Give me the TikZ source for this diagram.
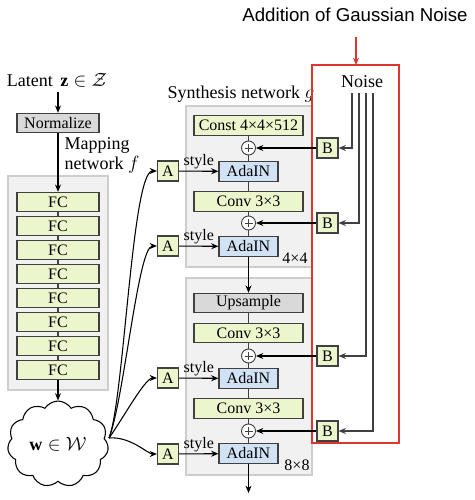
\documentclass[tikz,border=0pt]{standalone}
\usepackage{amsmath}
\usepackage{amssymb}
\usepackage{fontspec}
\setmainfont{Liberation Serif}
\newfontfamily\titlefont{Liberation Sans}
\usetikzlibrary{arrows.meta}
\usetikzlibrary{shapes.symbols}
\definecolor{fcfill}{RGB}{236,246,204}
\definecolor{adafill}{RGB}{208,226,244}
\definecolor{grayfill}{RGB}{217,217,217}
\definecolor{panelfill}{RGB}{241,241,241}
\definecolor{paneldraw}{RGB}{205,205,205}
\definecolor{boxline}{RGB}{64,64,64}
\definecolor{noisered}{RGB}{224,52,44}
\newcommand{\lblsize}{\fontsize{13.5}{15}\selectfont}

\begin{document}
\begin{tikzpicture}[x=0.75pt, y=-0.75pt, >={Stealth[length=5.5pt, width=4.5pt]},
    font=\fontsize{12}{14}\selectfont,
    box/.style = {draw=boxline, line width=0.8pt, inner sep=0pt, minimum height=14.5pt},
    fc/.style = {box, fill=fcfill, minimum width=61.5pt},
    wide/.style = {box, fill=fcfill, minimum width=81.75pt},
    grey/.style = {box, fill=grayfill},
    ada/.style = {box, fill=adafill, minimum width=44.25pt},
    small/.style = {box, fill=fcfill, minimum width=15.75pt, minimum height=15pt},
    plus/.style = {circle, draw=boxline, fill=white, line width=0.7pt, minimum size=10.5pt, inner sep=0pt,
      path picture={\draw[line width=0.5pt] ([xshift=-3pt]path picture bounding box.center) -- ([xshift=3pt]path picture bounding box.center)
        ([yshift=-3pt]path picture bounding box.center) -- ([yshift=3pt]path picture bounding box.center);}},
    panel/.style = {fill=panelfill, draw=paneldraw, line width=0.8pt},
    link/.style = {draw=boxline, line width=0.8pt},
    arr/.style = {->, draw=black, line width=0.8pt},
    noise/.style = {->, draw=boxline, line width=1pt}]
    \useasboundingbox (0,0) rectangle (475,500);

    % Panels
    \draw[panel] (8,176) rectangle (108,390);
    \draw[panel] (186,106) rectangle (312,267);
    \draw[panel] (186,278) rectangle (312,475);

    % Nodes
    \node[font=\titlefont\fontsize{14}{16}\selectfont] (title) at (355,15) {Addition of Gaussian Noise};
    \node[font=\lblsize] (latent) at (57,80) {Latent \,$\mathbf{z}\in\mathcal{Z}$};
    \node[grey, minimum width=61.5pt] (norm) at (58,123) {Normalize};
    \node[font=\lblsize, anchor=west, align=left] (maplbl) at (60,155) {Mapping\\network $f$};
    \foreach \i in {1,...,8}
        \node[fc] (fc\i) at (58,{202+24*(\i-1)}) {FC};
    \node[cloud, draw, line width=0.8pt, cloud puffs=11, cloud puff arc=115, aspect=1.25,
          minimum width=75pt, minimum height=60pt, font=\lblsize] (w) at (58,444) {$\mathbf{w}\in\mathcal{W}$};
    \coordinate (wout) at (109,438);

    \node[small] (a1) at (168,171) {A};
    \node[small] (a2) at (168,246) {A};
    \node[small] (a3) at (168,378) {A};
    \node[small] (a4) at (168,454) {A};

    \node[font=\lblsize] (synlbl) at (241,94) {Synthesis network $g$};
    \node[wide] (const) at (248.5,125.5) {Const 4×4×512};
    \node[plus] (p1) at (248.5,148) {};
    \node[ada] (ada1) at (248.5,171.5) {AdaIN};
    \node[wide] (conv1) at (248.5,201.5) {Conv 3×3};
    \node[plus] (p2) at (248.5,223) {};
    \node[ada] (ada2) at (248.5,246.5) {AdaIN};
    \node (res1) at (295,258) {4×4};

    \node[grey, minimum width=81.75pt] (up) at (248.5,303) {Upsample};
    \node[wide] (conv2) at (248.5,333) {Conv 3×3};
    \node[plus] (p3) at (248.5,356) {};
    \node[ada] (ada3) at (248.5,378.5) {AdaIN};
    \node[wide] (conv3) at (248.5,408.5) {Conv 3×3};
    \node[plus] (p4) at (248.5,431) {};
    \node[ada] (ada4) at (248.5,453.5) {AdaIN};
    \node (res2) at (297,465) {8×8};
    \coordinate (out) at (248.5,493);

    \node[small] (b1) at (327.5,148) {B};
    \node[small] (b2) at (327.5,223) {B};
    \node[small] (b3) at (327.5,356) {B};
    \node[small] (b4) at (327.5,431) {B};

    \draw[noisered, line width=1.2pt] (312,65) rectangle (399,443);
    \node[font=\lblsize] (noiselbl) at (362,82) {Noise};
    \coordinate (n1) at (352,93);
    \coordinate (n2) at (359,93);
    \coordinate (n3) at (366,93);
    \coordinate (n4) at (373,93);
    \coordinate (redtop) at (356,65);

    % Edges
    \draw[arr] (latent.south -| norm) -- (norm);
    \draw[arr] (norm) -- (fc1);
    \foreach \i [evaluate=\i as \j using int(\i+1)] in {1,...,7}
        \draw[link] (fc\i) -- (fc\j);
    \draw[arr] (fc8) -- (w);

    \draw[arr] (wout) .. controls +(15,-38) and +(-36,0) .. (a1);
    \draw[arr] (wout) .. controls +(15,-38) and +(-30,0) .. (a2);
    \draw[arr] (wout) .. controls +(13,-18) and +(-23,0) .. (a3);
    \draw[arr] (wout) .. controls +(21,-2) and +(-20,0) .. (a4);

    \draw[link] (const) -- (p1) -- (ada1) -- (conv1) -- (p2) -- (ada2);
    \draw[arr] (ada2) -- (up);
    \draw[link] (up) -- (conv2) -- (p3) -- (ada3) -- (conv3) -- (p4) -- (ada4);
    \draw[arr] (ada4) -- (out);

    \draw[arr] (a1) -- node[midway, above, inner sep=1pt] {style} (ada1);
    \draw[arr] (a2) -- node[midway, above, inner sep=1pt] {style} (ada2);
    \draw[arr] (a3) -- node[midway, above, inner sep=1pt] {style} (ada3);
    \draw[arr] (a4) -- node[midway, above, inner sep=1pt] {style} (ada4);

    \draw[arr] (b1) -- (p1);
    \draw[arr] (b2) -- (p2);
    \draw[arr] (b3) -- (p3);
    \draw[arr] (b4) -- (p4);

    \draw[noise] (n1) |- (b1);
    \draw[noise] (n2) |- (b2);
    \draw[noise] (n3) |- (b3);
    \draw[noise] (n4) |- (b4);

    \draw[->, noisered, line width=1.2pt] (title.south -| redtop) ++(0,10) -- (redtop);

\end{tikzpicture}
\end{document}
